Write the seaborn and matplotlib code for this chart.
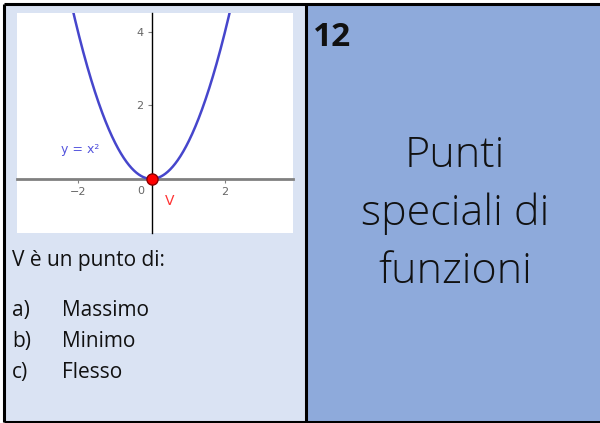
import numpy as np
import pandas as pd
import matplotlib
matplotlib.use("Agg")
import matplotlib.pyplot as plt
import seaborn as sns
from matplotlib.patches import Rectangle

sns.set_theme(style="white")
plt.rcParams["font.family"] = ["Open Sans", "DejaVu Sans"]

# --- content -------------------------------------------------------------
card_number = "12"
card_title = ["Punti", "speciali di", "funzioni"]
question = "V è un punto di:"
option_keys = ["a)", "b)", "c)"]
option_texts = ["Massimo", "Minimo", "Flesso"]

# function y = x^2 sampled over the visible range, and its vertex V
curve_x = np.linspace(-2.2, 2.2, 400)
curve_y = curve_x ** 2
vertex_x = [0.0]
vertex_y = [0.0]
x_ticks = [-2, 2]
y_ticks = [2, 4]

# --- figure & card background -------------------------------------------
W, H = 600, 423
fig = plt.figure(figsize=(W / 100, H / 100), dpi=100)
bg = fig.add_axes([0, 0, 1, 1])
bg.set_xlim(0, W)
bg.set_ylim(H, 0)
bg.axis("off")

bg.add_patch(Rectangle((4, 4), 302, 418, facecolor="#DAE3F3", edgecolor="none"))
bg.add_patch(Rectangle((306, 4), 294, 418, facecolor="#8EAADB", edgecolor="none"))
# frame lines
bg.plot([4, 600], [4, 4], color="black", lw=2.2, solid_capstyle="butt")
bg.plot([4, 600], [422, 422], color="black", lw=2.2, solid_capstyle="butt")
bg.plot([4, 4], [4, 422], color="black", lw=2.2, solid_capstyle="butt")
bg.plot([306, 306], [4, 422], color="black", lw=2.2, solid_capstyle="butt")

# card number and title
bg.text(313, 46, card_number, fontsize=24, fontweight="bold", color="#111111",
        ha="left", va="baseline")
for i, line in enumerate(card_title):
    bg.text(455, 167 + 58 * i, line, fontsize=31, color="#111111",
            ha="center", va="baseline", fontweight="light")

# question and options
bg.text(12, 266, question, fontsize=15, color="#111111", ha="left", va="baseline")
for i, (k, t) in enumerate(zip(option_keys, option_texts)):
    yb = 316 + 31 * i
    bg.text(12, yb, k, fontsize=15, color="#111111", ha="left", va="baseline")
    bg.text(62, yb, t, fontsize=15, color="#111111", ha="left", va="baseline")

# --- function plot -------------------------------------------------------
ax = fig.add_axes([17 / W, (H - 233) / H, 276 / W, 220 / H])
ax.set_facecolor("white")
df = pd.DataFrame({"x": curve_x, "y": curve_y})
sns.lineplot(data=df, x="x", y="y", ax=ax, color="#4646CC", lw=1.8,
             sort=False, estimator=None, zorder=3)
ax.plot(vertex_x, vertex_y, "o", color="#FF0000", markeredgecolor="#8B0000",
        markersize=8, zorder=5, clip_on=False)

ax.set_xlim(-3.66, 3.85)
ax.set_ylim(-1.47, 4.51)
ax.set_xlabel("")
ax.set_ylabel("")

for s in ["top", "right"]:
    ax.spines[s].set_visible(False)
ax.spines["left"].set_position(("data", 0))
ax.spines["bottom"].set_position(("data", 0))
ax.spines["left"].set_color("black")
ax.spines["left"].set_linewidth(1.0)
ax.spines["bottom"].set_color("#808080")
ax.spines["bottom"].set_linewidth(2.0)
ax.spines["left"].set_zorder(2)
ax.spines["bottom"].set_zorder(2)

ax.set_xticks(x_ticks)
ax.set_yticks(y_ticks)
ax.set_xticklabels([f"{v}".replace("-", "\u2212") for v in x_ticks])
ax.set_yticklabels([str(v) for v in y_ticks])
ax.tick_params(axis="both", direction="out", length=3, width=0.8,
               color="#808080", labelcolor="#666666", labelsize=8, pad=3,
               left=True, bottom=True)
for lbl in ax.get_xticklabels() + ax.get_yticklabels():
    lbl.set_family("DejaVu Sans")
ax.text(-0.28, -0.2, "0", fontsize=8, color="#666666", ha="center", va="top",
        family="DejaVu Sans")
ax.text(-2.45, 0.79, "y = x²", fontsize=9, color="#5555DD", ha="left",
        va="center", family="DejaVu Sans")
ax.text(0.5, -0.6, "V", fontsize=10, color="#FF3333", ha="center",
        va="center", family="DejaVu Sans")

fig.savefig("out.png", dpi=100)
